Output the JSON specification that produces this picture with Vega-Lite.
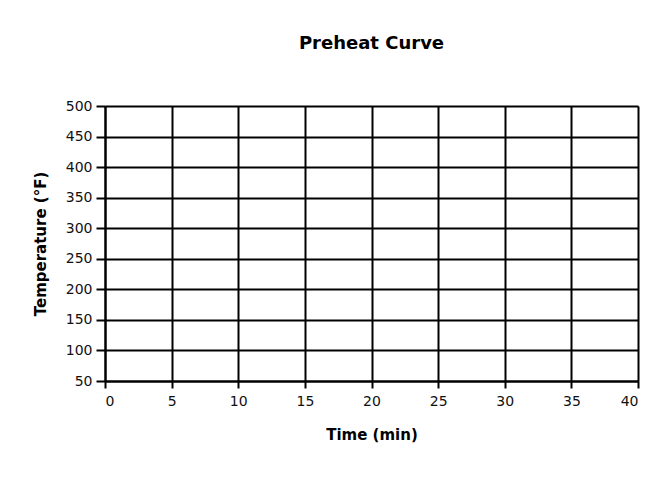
{
  "$schema": "https://vega.github.io/schema/vega-lite/v6.json",
  "width": 533,
  "height": 275,
  "autosize": {"type": "none"},
  "padding": {"left": 105, "top": 106, "right": 26, "bottom": 96},
  "background": "white",
  "title": {
    "text": "Preheat Curve",
    "font": "DejaVu Sans",
    "fontSize": 18,
    "fontWeight": "bold",
    "color": "black",
    "anchor": "middle",
    "offset": 46
  },
  "data": {"values": []},
  "mark": {"type": "point"},
  "encoding": {
    "x": {
      "field": "time",
      "type": "quantitative",
      "scale": {"domain": [0, 40], "nice": false, "zero": false},
      "axis": {
        "title": "Time (min)",
        "values": [0, 5, 10, 15, 20, 25, 30, 35, 40],
        "titleFont": "DejaVu Sans",
        "titleFontSize": 15,
        "titleFontWeight": "bold",
        "titleColor": "black",
        "titlePadding": 19,
        "labelFont": "DejaVu Sans",
        "labelFontSize": 14,
        "labelColor": "#111",
        "labelPadding": 6,
        "domainColor": "black",
        "domainWidth": 2,
        "tickColor": "black",
        "tickWidth": 2,
        "tickSize": 7,
        "grid": true,
        "gridColor": "black",
        "gridWidth": 2,
        "gridOpacity": 1
      }
    },
    "y": {
      "field": "temp",
      "type": "quantitative",
      "scale": {"domain": [50, 500], "nice": false, "zero": false},
      "axis": {
        "title": "Temperature (°F)",
        "values": [50, 100, 150, 200, 250, 300, 350, 400, 450, 500],
        "titleFont": "DejaVu Sans",
        "titleFontSize": 15,
        "titleFontWeight": "bold",
        "titleColor": "black",
        "titlePadding": 17,
        "labelFont": "DejaVu Sans",
        "labelFontSize": 14,
        "labelColor": "#111",
        "labelPadding": 4,
        "domainColor": "black",
        "domainWidth": 2,
        "tickColor": "black",
        "tickWidth": 2,
        "tickSize": 9,
        "grid": true,
        "gridColor": "black",
        "gridWidth": 2,
        "gridOpacity": 1
      }
    }
  },
  "config": {"view": {"stroke": null}}
}
